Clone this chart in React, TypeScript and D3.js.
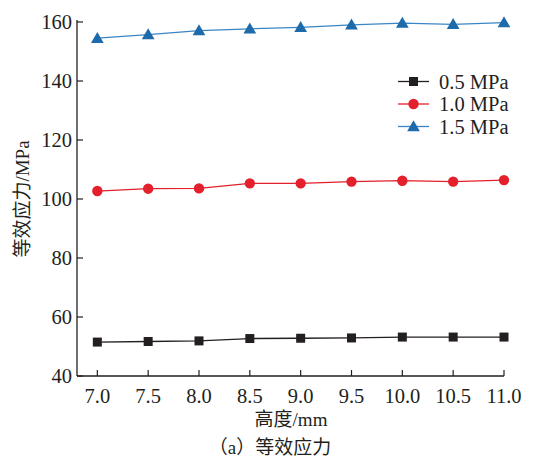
import React from "react";
import * as d3 from "d3";

const heights = [7.0, 7.5, 8.0, 8.5, 9.0, 9.5, 10.0, 10.5, 11.0];
const stress05 = [51.5, 51.7, 51.9, 52.7, 52.8, 52.9, 53.2, 53.2, 53.2];
const stress10 = [102.7, 103.5, 103.6, 105.3, 105.3, 105.9, 106.2, 105.9, 106.4];
const stress15 = [154.5, 155.7, 157.1, 157.7, 158.2, 159.0, 159.6, 159.2, 159.8];
const seriesNames = ["0.5 MPa", "1.0 MPa", "1.5 MPa"];
const yTicks = [40, 60, 80, 100, 120, 140, 160];

const W = 558, H = 459;
const left = 77, right = 504, top = 22, bottom = 376;
const font = "'Liberation Serif', 'Times New Roman', serif";
const cjk = "'Noto Sans CJK SC', 'Liberation Serif', serif";
const txt = "#231f20";

export default function App() {
  const x = d3.scaleLinear().domain([6.8, 11.0]).range([left, right]);
  const y = d3.scaleLinear().domain([40, 160]).range([bottom, top]);

  const series = [
    { name: seriesNames[0], vals: stress05, color: "#231f20", line: "#231f20", shape: "square" },
    { name: seriesNames[1], vals: stress10, color: "#e3202b", line: "#e3202b", shape: "circle" },
    { name: seriesNames[2], vals: stress15, color: "#1d6bab", line: "#3a86c4", shape: "triangle" },
  ];

  const line = d3.line<number>()
    .x((_, i) => x(heights[i]))
    .y(d => y(d));

  const marker = (shape: string, cx: number, cy: number, color: string, key: any) => {
    if (shape === "square") {
      return <rect key={key} x={cx - 4.5} y={cy - 4.5} width={9} height={9} fill={color} />;
    }
    if (shape === "circle") {
      return <circle key={key} cx={cx} cy={cy} r={5.2} fill={color} />;
    }
    const p = d3.symbol(d3.symbolTriangle, 70)() as string;
    return <path key={key} d={p} transform={`translate(${cx},${cy + 1})`} fill={color} />;
  };

  return (
    <svg width={W} height={H} style={{ position: "absolute", left: 0, top: 0 }}>
      <rect width={W} height={H} fill="#fff" />
      {/* axes */}
      <line x1={left} x2={left} y1={top - 2} y2={bottom} stroke={txt} strokeWidth={1.3} />
      <line x1={left} x2={right} y1={bottom} y2={bottom} stroke={txt} strokeWidth={1.3} />
      {yTicks.map(t => (
        <g key={t}>
          <line x1={left} x2={left + 6} y1={y(t)} y2={y(t)} stroke={txt} strokeWidth={1.2} />
          <text x={72} y={y(t) + 7} textAnchor="end" fontFamily={font} fontSize={20.5} fill={txt}>{t}</text>
        </g>
      ))}
      {heights.map(h => (
        <g key={h}>
          <line x1={x(h)} x2={x(h)} y1={bottom} y2={bottom - 6} stroke={txt} strokeWidth={1.2} />
          <text x={x(h)} y={403} textAnchor="middle" fontFamily={font} fontSize={20.5} fill={txt}>{h.toFixed(1)}</text>
        </g>
      ))}
      <text x={291} y={426} textAnchor="middle" fontSize={19} fill={txt}>
        <tspan fontFamily={cjk}>高度</tspan><tspan fontFamily={font}>/mm</tspan>
      </text>
      <text x={270} y={454} textAnchor="middle" fontSize={19} fill={txt}>
        <tspan fontFamily={cjk}>（</tspan><tspan fontFamily={font}>a</tspan><tspan fontFamily={cjk}>）等效应力</tspan>
      </text>
      <text transform={`translate(29,199) rotate(-90)`} textAnchor="middle" fontSize={19} fill={txt}>
        <tspan fontFamily={cjk}>等效应力</tspan><tspan fontFamily={font}>/MPa</tspan>
      </text>
      {/* series */}
      {series.map((s, si) => (
        <g key={si}>
          <path d={line(s.vals) as string} fill="none" stroke={s.line} strokeWidth={1.3} />
          {s.vals.map((v, i) => marker(s.shape, x(heights[i]), y(v), s.color, i))}
        </g>
      ))}
      {/* legend */}
      {series.map((s, si) => {
        const ly = 81.5 + si * 22.5;
        return (
          <g key={si}>
            <line x1={398} x2={429} y1={ly} y2={ly} stroke={s.line} strokeWidth={1.3} />
            {marker(s.shape, 413.5, ly, s.color, "m")}
            <text x={439} y={ly + 7} fontFamily={font} fontSize={20.5} fill={txt}>{s.name}</text>
          </g>
        );
      })}
    </svg>
  );
}
